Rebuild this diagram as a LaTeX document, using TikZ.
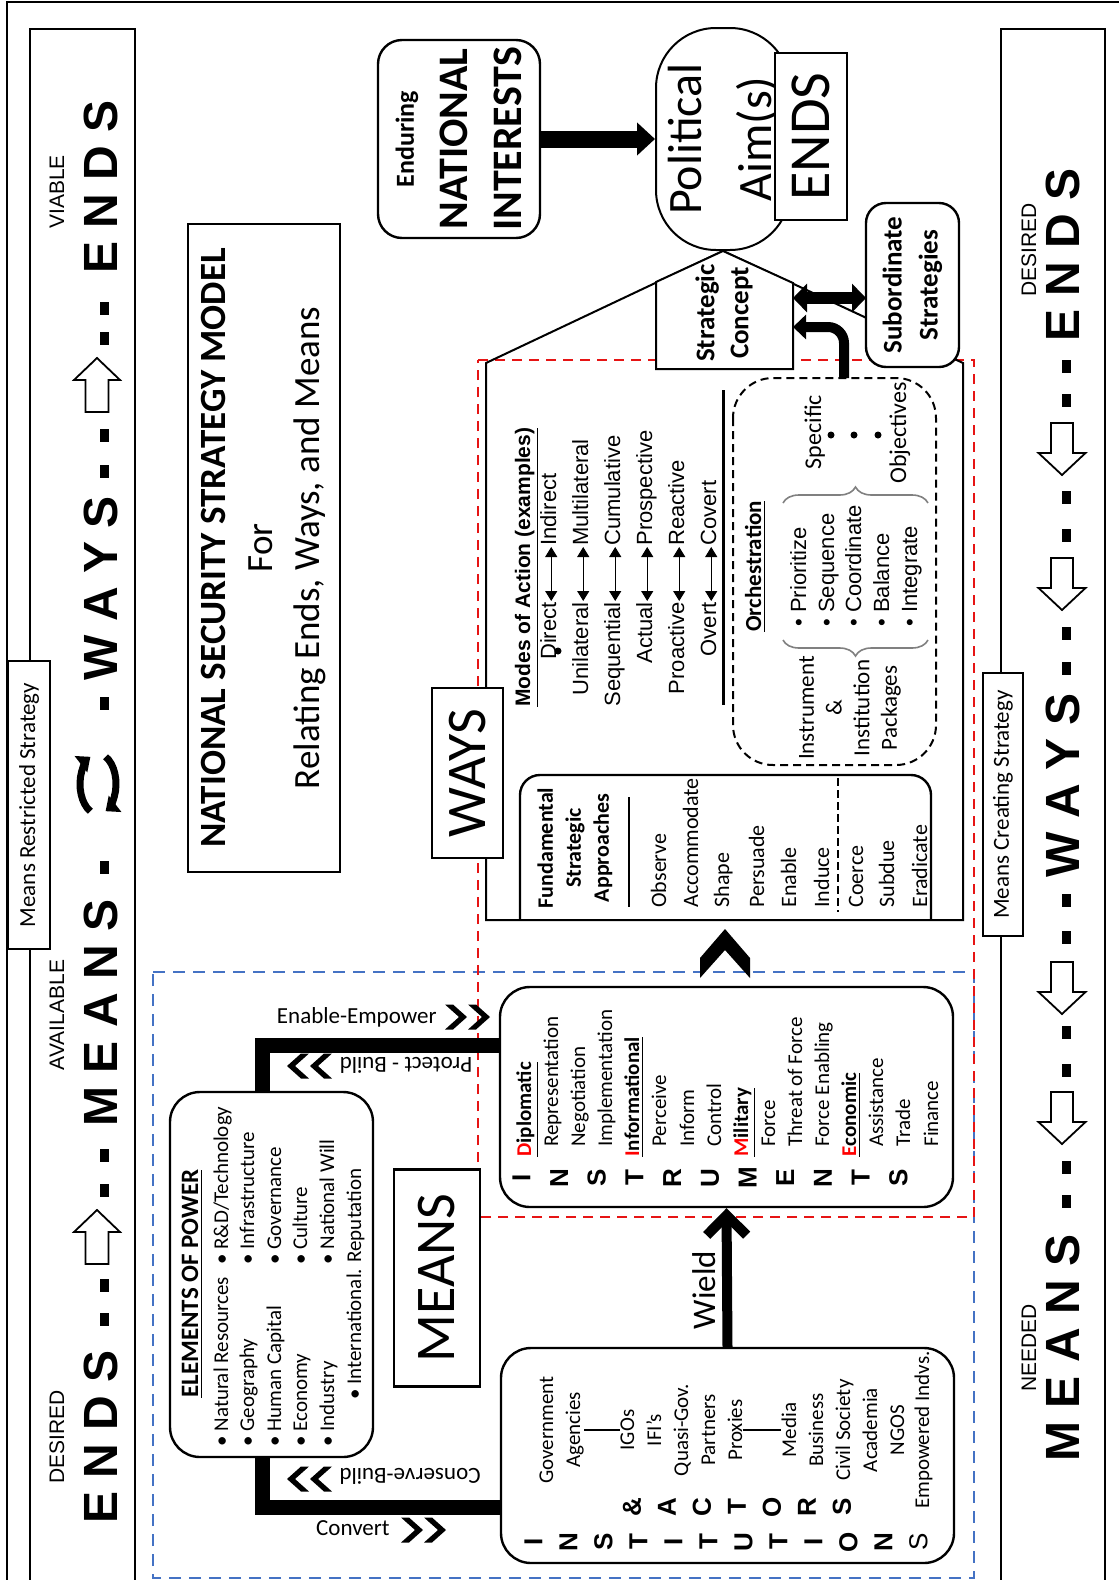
\documentclass[tikz,border=0pt]{standalone}
\usepackage{fontspec}
\setmainfont{Carlito}
\newfontfamily\arialf{Liberation Sans}
\usetikzlibrary{arrows.meta,decorations.pathreplacing}
\newcommand{\fsz}[2]{\fontsize{#1}{#2}\selectfont}
\definecolor{dashred}{RGB}{230,20,20}
\definecolor{dashblue}{RGB}{68,114,196}
\definecolor{keyred}{RGB}{255,0,0}

\tikzset{
  box/.style={draw, line width=1pt, fill=white, inner sep=0pt},
  rbox/.style={box, line width=1.2pt},
  colword/.style={font=\arialf\bfseries\fsz{24}{28}, inner sep=0pt, anchor=base},
  collabel/.style={font=\arialf\fsz{10.5}{12}, inner sep=0pt, anchor=base},
  dashbar/.style={fill=black},
  hollow/.style={draw, line width=0.9pt, fill=white},
  conn/.style={line width=7.5pt},
  lbl/.style={font=\fsz{11.5}{14}, inner sep=0pt},
  txt/.style={font=\fsz{10.5}{13}, inner sep=0pt, anchor=base west},
  fsaitem/.style={font=\fsz{11}{14}, inner sep=0pt, anchor=base west},
  mode/.style={font=\arialf\fsz{11}{13}, inner sep=0.5pt},
  modearrow/.style={line width=0.6pt, {Triangle[length=5pt,width=6pt]}-{Triangle[length=5pt,width=6pt]}},
  orchitem/.style={font=\arialf\fsz{11}{13}, inner sep=0pt, anchor=base west},
  lettercol/.style={font=\arialf\bfseries\fsz{13}{17.5}, inner sep=0pt, align=center},
  dchev/.pic={\foreach \s in {0,-23} \fill[shift={(\s,0)}] (0,0) -- (-14,-12.5) -- (-22,-12.5) -- (-8,0) -- (-22,12.5) -- (-14,12.5) -- cycle;},
}

\begin{document}
\begin{tikzpicture}[x={(0,-0.5pt)}, y={(-0.5pt,0)}, rotate=90, transform shape, line join=miter]
\useasboundingbox (0,0) rectangle (1119,1580);
\fill[white] (0,0) rectangle (1119,1580);

% frame and side columns
\draw[line width=1pt] (7,1590) -- (7,2) -- (1119,2);
\draw[line width=1pt] (30,1590) -- (30,29) -- (135,29) -- (135,1590);
\draw[line width=1pt] (1001,1590) -- (1001,29) -- (1105,29) -- (1105,1590);

% left column
\node[colword] (lends) at (117,1437) {E N D S};
\node[colword] (lmeans) at (117,1013) {M E A N S};
\node[colword] (lways) at (117,588) {W A Y S};
\node[colword] (lendsv) at (117,187) {E N D S};
\node[collabel] (desl) at (64,1437) {DESIRED};
\node[collabel] (avail) at (64,1015) {AVAILABLE};
\node[collabel] (viable) at (64,192) {VIABLE};
\foreach \c in {1319,1285,1190,1155,867,703,471,435,338,308}
  \fill[dashbar] (99.5,\c) ++(0,-6.5) rectangle ++(9,13);
\foreach \t in {358,1210}
  \draw[hollow] (97,\t) -- ++(23,22) -- ++(-11.5,0) -- ++(0,32) -- ++(-23,0) -- ++(0,-32) -- ++(-11.5,0) -- cycle;
\draw[line width=3.5pt, -{Triangle[length=6pt,width=10pt]}] (98,784) ++(115:18 and 30) arc[start angle=115, end angle=245, x radius=18, y radius=30];
\draw[line width=3.5pt, -{Triangle[length=6pt,width=10pt]}] (98,784) ++(-65:18 and 30) arc[start angle=-65, end angle=65, x radius=18, y radius=30];

% right column
\node[colword] (rends) at (1079,255) {E N D S};
\node[colword] (rways) at (1079,785) {W A Y S};
\node[colword] (rmeans) at (1079,1348) {M E A N S};
\node[collabel] (desr) at (1036,250) {DESIRED};
\node[collabel] (needed) at (1036,1348) {NEEDED};
\foreach \c in {366,400,497,535,633,668,900,937,1032,1070,1167,1201}
  \fill[dashbar] (1061.5,\c) ++(0,-6.5) rectangle ++(9,13);
\foreach \s in {423,558,962,1092}
  \draw[hollow] (1051,\s) -- ++(22,0) -- ++(0,30) -- ++(12.5,0) -- ++(-23.5,22) -- ++(-23.5,-22) -- ++(12.5,0) -- cycle;

\node[box, minimum width=144pt, minimum height=21pt, font=\fsz{11.5}{14}] (mrs) at (29,805) {Means Restricted Strategy};
\node[box, minimum width=131.5pt, minimum height=20pt, font=\fsz{11.5}{14}] (mcs) at (1003,804.5) {Means Creating Strategy};

% title
\node[box, minimum width=324pt, minimum height=76pt, align=center, font=\fsz{18.5}{23.5}] (title) at (264,548)
  {\textbf{NATIONAL SECURITY STRATEGY MODEL}\\For\\Relating Ends, Ways, and Means};

% dashed regions
\draw[dashblue, line width=1pt, dash pattern=on 6pt off 4pt] (153,972) rectangle (974,1578);
\draw[dashred, line width=1pt, dash pattern=on 5pt off 3.5pt] (478,360) rectangle (974,1217);

% ends
\node[rbox, rounded corners=12pt, minimum width=99pt, minimum height=81pt, align=center, font=\bfseries\fsz{21}{27}] (enduring) at (459,139)
  {{\fsz{13}{27}Enduring}\\NATIONAL\\INTERESTS};
\node[draw, line width=1pt, rounded corners=30pt, minimum width=111pt, minimum height=67pt, align=center, font=\fsz{24}{35}, inner sep=0pt] (aim) at (723,139) {Political\\Aim(s)};
\node[box, minimum width=83.5pt, minimum height=36pt, font=\fsz{29}{34}] (endsbox) at (811,136.5) {ENDS};
\draw[line width=8.5pt, -{Triangle[length=9pt,width=16pt]}] (enduring.south) -- (aim.north);

% ways house
\draw[line width=1pt] (486,920) -- (486,363) -- (aim.west) -- (963,363) -- (963,920) -- cycle;
\draw[line width=1pt, fill=white] (656,369) -- (656,282) -- (aim.west) -- (793,283) -- (793,369) -- cycle;
\node[font=\bfseries\fsz{13.5}{17}, align=center, inner sep=0pt] (concept) at (724,313) {Strategic\\Concept};
\node[rbox, rounded corners=10pt, minimum width=82pt, minimum height=46.5pt, align=center, font=\bfseries\fsz{13.5}{18}] (subord) at (912.5,285) {Subordinate\\Strategies};
\coordinate (scr) at (793,298);
\coordinate (scl) at (793,327);
\coordinate (subl) at (866,298);
\draw[line width=6pt, {Triangle[length=7pt,width=14pt]}-{Triangle[length=7pt,width=14pt]}] (scr) -- (subl);

\node[box, line width=1.2pt, minimum width=85pt, minimum height=35.5pt, font=\fsz{28}{32}] (wayslbl) at (467.5,773) {WAYS};
\node[box, line width=1.2pt, minimum width=108.5pt, minimum height=43pt, font=\fsz{28}{32}] (meanslbl) at (437,1278) {MEANS};

% fundamental strategic approaches
\draw[line width=1.2pt, rounded corners=10pt] (520,920) -- (520,775) -- (931,775) -- (931,920);
\node[font=\bfseries\fsz{11}{14}, align=center, inner sep=0pt] (fsahead) at (575,848) {Fundamental\\Strategic\\Approaches};
\draw[line width=1.3pt] (629,797) -- (629,907);
\foreach \t/\b in {Observe/666, Accommodate/698, Shape/729, Persuade/764, Enable/796, Induce/829, Coerce/863, Subdue/894, Eradicate/927}
  \node[fsaitem] (fsa\b) at (\b,908) {\t};
\draw[line width=1.3pt, dash pattern=on 4pt off 2pt] (838,778) -- (838,912);

% modes of action
\node[font=\arialf\bfseries\fsz{10.5}{12}, anchor=base west, inner sep=0pt] (modes) at (530,707) {\underline{Modes of Action (examples)}};
\foreach \l/\r/\b in {Direct/Indirect/556, Unilateral/Multilateral/588, Sequential/Cumulative/620, Actual/Prospective/652, Proactive/Reactive/684, Overt/Covert/716} {
  \node[mode, anchor=base east] (ml\b) at (\b,601) {\l};
  \node[mode, anchor=base west] (mr\b) at (\b,547) {\r};
  \draw[modearrow] (ml\b.mid east) -- (mr\b.mid west);
}
\fill (558,651) circle (3.5);
\draw[line width=1.5pt] (723,390) -- (723,705);

% orchestration
\node[draw, line width=1pt, dash pattern=on 4pt off 2.5pt, rounded corners=20pt, minimum width=193.5pt, minimum height=101.5pt] (orch) at (834.5,571.5) {};
\node[font=\bfseries\fsz{11.5}{14}, anchor=base west, inner sep=0pt] (orchhead) at (761,632) {\underline{Orchestration}};
\foreach \t/\b in {Prioritize/806, Sequence/834, Coordinate/861, Balance/889, Integrate/917}
  \node[orchitem] (oi\b) at (\b,627) {\textbullet\ \t};
\draw[gray, line width=0.8pt, decorate, decoration={brace, amplitude=8pt}] (928,640) -- (783,640);
\draw[gray, line width=0.8pt, decorate, decoration={brace, amplitude=8pt}] (783,503) -- (928,503);
\node[font=\fsz{11.5}{13.85}, align=center, inner sep=0pt] (pkg) at (850,708) {Instrument\\\&\\Institution\\Packages};
\node[font=\fsz{12}{14}, anchor=base, inner sep=0pt] (spec) at (821,432) {Specific};
\node[font=\fsz{12}{14}, anchor=base, inner sep=0pt] (obj) at (906,433) {Objectives};
\foreach \p in {831,854,878} \fill (\p,435) circle (3.5);
\coordinate (orchtop) at (844,378);
\draw[line width=5pt, rounded corners=8pt, -{Triangle[length=6.5pt,width=12pt]}] (orchtop) -- ++(0,-51) -- (scl);

% instruments
\node[rbox, rounded corners=15pt, minimum width=110pt, minimum height=226.5pt] (dime) at (726.5,1097) {};
\foreach \h/\r/\b in {D/iplomatic/531, I/nformational/639, M/ilitary/748, E/conomic/856}
  \node[txt, font=\bfseries\fsz{10.5}{13}] (dh\b) at (\b,1157) {\underline{\textcolor{keyred}{\h}\r}};
\foreach \t/\b in {Representation/558, Negotiation/585, Implementation/612, Perceive/666, Inform/694, Control/721, Force/775, Threat of Force/802, Force Enabling/829, Assistance/883, Trade/910, Finance/938}
  \node[txt] (di\b) at (\b,1147) {\t};
\node[lettercol, font=\arialf\bfseries\fsz{13}{18.85}] (instr) at (710,1178) {I\\N\\S\\T\\R\\U\\M\\E\\N\\T\\S};
\fill (700,958) -- (725,929) -- (750,958) -- (750,978) -- (725,950) -- (700,978) -- cycle;

% institutions and actors
\node[rbox, rounded corners=15pt, minimum width=107.5pt, minimum height=226.5pt] (inst) at (727.5,1455.5) {};
\foreach \t/\b in {Government/553, Agencies/580, IGOs/634, IFI’s/661, Quasi-Gov./688, Partners/715, Proxies/742, Media/796, Business/823, Civil Society/850, Academia/877, NGOS/904, Empowered Indvs./929}
  \node[font=\fsz{10.5}{13}, inner sep=0pt, anchor=base] (in\b) at (\b,1430) {\t};
\draw[line width=1.2pt] (in580.south) -- (in634.north);
\draw[line width=1.2pt] (in742.south) -- (in796.north);
\node[lettercol] (instit) at (726,1542) {I\\N\\S\\T\\I\\T\\U\\T\\I\\O\\N\\{\mdseries S}};
\node[lettercol] (actors) at (737,1507) {\&\\A\\C\\T\\O\\R\\S};
\draw[line width=5pt, -{Straight Barb[length=10pt,width=20pt]}] (inst.east) -- (dime.west);
\node[font=\fsz{16.5}{20}, inner sep=0pt, anchor=base] (wieldlbl) at (715,1290) {Wield};

% elements of power
\node[rbox, rounded corners=15pt, minimum width=182.5pt, minimum height=101.5pt] (eop) at (271.5,1274.5) {};
\node[font=\bfseries\fsz{12.5}{15}, anchor=base west, inner sep=0pt] (eophead) at (198,1398) {\underline{ELEMENTS OF POWER}};
\foreach \t/\b in {Natural Resources/228, Geography/254, Human Capital/281, Economy/307, Industry/334}
  \node[txt] (ea\b) at (\b,1447) {\textbullet\ \t};
\foreach \t/\b in {{R\&D/Technology}/228, Infrastructure/254, Governance/281, Culture/307, National Will/334}
  \node[txt] (eb\b) at (\b,1265) {\textbullet\ \t};
\node[txt] (ec361) at (361,1400) {\textbullet\ International. Reputation};

\coordinate (eopup) at (262,1092);
\coordinate (eopdn) at (262,1457);
\coordinate (dimein) at (500,1045);
\coordinate (instin) at (501,1507);
\draw[conn] (eopup) -- ++(0,-47) -- (dimein);
\draw[conn] (eopdn) -- ++(0,50) -- (instin);
\pic at (490,1017) {dchev};
\pic[rotate=180] at (287,1066) {dchev};
\pic[rotate=180] at (287,1479) {dchev};
\pic at (446,1530) {dchev};
\node[lbl, rotate=-90, anchor=east] (enablelbl) at (437,1017) {Enable-Empower};
\node[lbl, rotate=90] (protectlbl) at (406,1065) {Protect - Build};
\node[lbl, rotate=90] (conservelbl) at (410,1476) {Conserve-Build};
\node[lbl, rotate=-90, anchor=east] (convertlbl) at (390,1528) {Convert};
\end{tikzpicture}
\end{document}
